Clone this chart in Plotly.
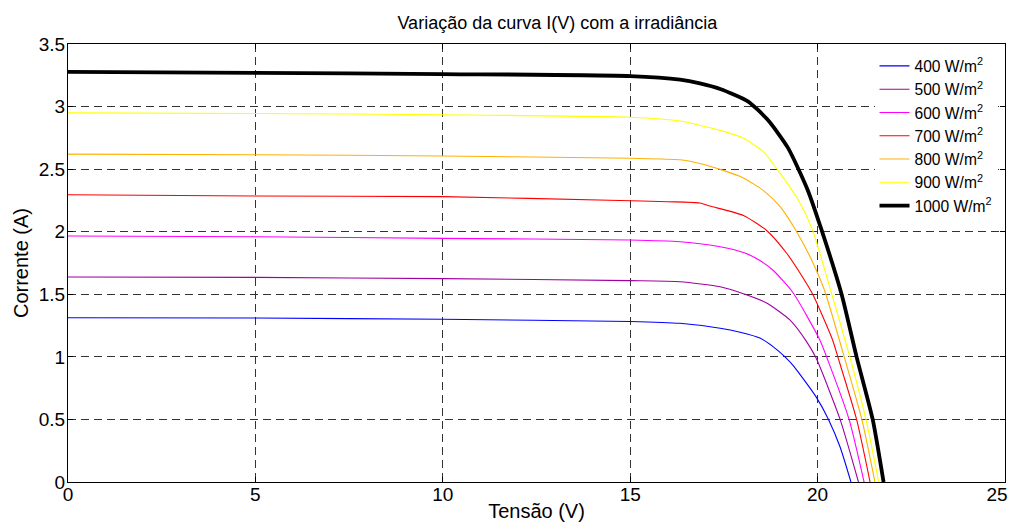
import plotly.graph_objects as go

# ---- data ----
labels = ["400 W/m<sup>2</sup>", "500 W/m<sup>2</sup>", "600 W/m<sup>2</sup>", "700 W/m<sup>2</sup>",
          "800 W/m<sup>2</sup>", "900 W/m<sup>2</sup>", "1000 W/m<sup>2</sup>"]

v_400 = [0, 5, 10, 15, 16.33, 17.4, 17.93, 18.46, 18.82, 19.13, 19.35, 19.96, 20.29, 20.6, 20.89]
i_400 = [1.313, 1.31, 1.30, 1.283, 1.268, 1.228, 1.196, 1.15, 1.08, 1.0, 0.93, 0.68, 0.5, 0.28, 0]

v_500 = [0, 5, 10, 15, 16.33, 17.4, 18.06, 18.64, 19.26, 19.71, 19.96, 20.6, 21.09]
i_500 = [1.638, 1.635, 1.625, 1.609, 1.60, 1.56, 1.50, 1.43, 1.295, 1.12, 0.99, 0.5, 0]

v_600 = [0, 5, 10, 15, 16.33, 17.4, 18.06, 18.46, 18.82, 19.35, 20.06, 20.24, 20.84, 21.24]
i_600 = [1.966, 1.96, 1.947, 1.934, 1.92, 1.88, 1.83, 1.77, 1.69, 1.51, 1.135, 1.0, 0.5, 0]

v_700 = [0, 5, 10, 14.73, 16.0, 16.86, 17.13, 18.02, 18.64, 19.17, 19.53, 19.87, 20.4, 20.54, 21.04, 21.40]
i_700 = [2.295, 2.285, 2.28, 2.25, 2.24, 2.23, 2.205, 2.13, 2.01, 1.83, 1.67, 1.5, 1.135, 1.0, 0.5, 0]

v_800 = [0, 5, 10, 15, 16.33, 16.86, 17.48, 18.02, 18.55, 19.0, 19.44, 19.8, 20.11, 20.22, 20.71, 21.18, 21.53]
i_800 = [2.62, 2.615, 2.605, 2.587, 2.575, 2.545, 2.49, 2.43, 2.33, 2.2, 2.0, 1.8, 1.59, 1.5, 1.0, 0.5, 0]

v_900 = [0, 5, 10, 15, 16.33, 17.4, 18.0, 18.55, 19.04, 19.53, 19.87, 20.38, 20.86, 21.29, 21.63]
i_900 = [2.95, 2.945, 2.935, 2.915, 2.885, 2.81, 2.75, 2.64, 2.45, 2.23, 2.01, 1.5, 1.0, 0.5, 0]

v_1000 = [0, 5, 10, 15, 16.33, 16.86, 17.4, 18.15, 18.68, 19.21, 19.74, 20.11, 20.64, 21.04, 21.47, 21.76]
i_1000 = [3.277, 3.27, 3.26, 3.244, 3.215, 3.185, 3.14, 3.04, 2.89, 2.67, 2.33, 2.01, 1.5, 1.0, 0.5, 0]

x_ticks = [0, 5, 10, 15, 20]
x_ticktext = ["0", "5", "10", "15", "20"]
x_last_tick = [25]           # drawn on an overlay axis, nudged left like the reference
x_last_ticktext = ["25"]
y_ticks = [0, 0.5, 1, 1.5, 2, 2.5, 3, 3.5]
y_ticktext = ["0", "0.5", "1", "1.5", "2", "2.5", "3", "3.5"]

series_v = [v_400, v_500, v_600, v_700, v_800, v_900, v_1000]
series_i = [i_400, i_500, i_600, i_700, i_800, i_900, i_1000]
colors = ["#0000ff", "#a000a0", "#ff00ff", "#ff0000", "#ffb000", "#ffff00", "#000000"]
widths = [1.1, 1.1, 1.1, 1.1, 1.1, 1.1, 3.8]

FONT = "Liberation Sans, Arial, sans-serif"

fig = go.Figure()
for v, i, name, c, w in zip(series_v, series_i, labels, colors, widths):
    fig.add_trace(go.Scatter(x=v, y=i, mode="lines", name=name,
                             line=dict(color=c, width=w, shape="spline", smoothing=0.6)))
# empty helper trace so that the overlay axis carrying the last tick label is drawn
fig.add_trace(go.Scatter(x=[], y=[], xaxis="x2", yaxis="y", showlegend=False,
                         hoverinfo="skip", mode="lines"))

axis_common = dict(
    showline=True, linecolor="black", linewidth=1, mirror="ticks",
    ticks="inside", ticklen=5, tickcolor="black", tickwidth=1,
    showgrid=True, gridcolor="#333333", gridwidth=1, griddash="8px,5px",
    zeroline=False, tickfont=dict(family=FONT, size=19, color="black"),
    automargin=False, ticklabeloverflow="allow",
)

# the page body adds an 8px offset, so the figure is 8px smaller and margins compensate
fig.update_layout(
    width=1008, height=521,
    margin=dict(l=60, r=11, t=36, b=47),
    paper_bgcolor="white", plot_bgcolor="white",
    title=dict(text="Variação da curva I(V) com a irradiância", x=0.545, xanchor="center",
               y=0.972, yanchor="middle", font=dict(family=FONT, size=18, color="black")),
    xaxis=dict(range=[0, 25], tickvals=x_ticks + x_last_tick, ticktext=x_ticktext + [""],
               ticklabelstandoff=-5,
               title=dict(text="Tensão (V)", font=dict(family=FONT, size=20, color="black"), standoff=0),
               **axis_common),
    xaxis2=dict(range=[0, 25], overlaying="x", anchor="y", side="bottom",
                tickvals=x_last_tick, ticktext=x_last_ticktext,
                ticks="", showgrid=False, showline=False, zeroline=False,
                ticklabelstandoff=-1, ticklabelshift=-8,
                tickfont=dict(family=FONT, size=19, color="black"),
                automargin=False, ticklabeloverflow="allow"),
    yaxis=dict(range=[0, 3.5], tickvals=y_ticks, ticktext=y_ticktext,
               ticklabelstandoff=-2,
               title=dict(text="Corrente (A)", font=dict(family=FONT, size=20, color="black"), standoff=4),
               **axis_common),
    legend=dict(x=0.992, xanchor="right", y=0.988, yanchor="top", bgcolor="white",
                borderwidth=0, font=dict(family=FONT, size=15.6, color="black"),
                itemwidth=30, tracegroupgap=0),
    showlegend=True,
)

fig.write_html("out.html")
